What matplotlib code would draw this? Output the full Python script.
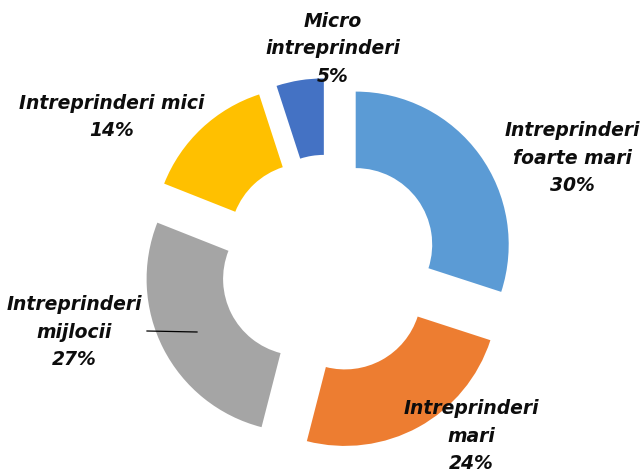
import matplotlib
matplotlib.use("Agg")
import matplotlib.pyplot as plt

categories = ["Intreprinderi\nfoarte mari", "Intreprinderi\nmari", "Intreprinderi\nmijlocii",
              "Intreprinderi mici", "Micro\nintreprinderi"]
values = [30, 24, 27, 14, 5]
colors = ["#5B9BD5", "#ED7D31", "#A5A5A5", "#FFC000", "#4472C4"]

fig = plt.figure(figsize=(6.4, 4.73), dpi=100)
ax = fig.add_axes([0, 0, 1, 1])

R = 153
ax.pie(values, colors=colors, startangle=90, counterclock=False,
       center=(329, 473 - 264), radius=R, explode=[33] * len(values),
       wedgeprops=dict(width=0.5 * R, edgecolor="none"), frame=True)
ax.set_xlim(0, 640)
ax.set_ylim(0, 473)
ax.set_aspect("equal")
ax.axis("off")

label_pos = [(572, 473 - 158), (471, 473 - 436), (74, 473 - 332), (112, 473 - 117), (333, 473 - 49)]
for cat, v, (x, y) in zip(categories, values, label_pos):
    txt = f"{cat}\n{v}%"
    ax.text(x, y, txt, ha="center", va="center", fontsize=13.5, fontweight="bold",
            fontstyle="italic", family="DejaVu Sans", linespacing=1.55, color="#0d0d0d")

ax.plot([147, 197], [473 - 331, 473 - 332], color="black", lw=0.9)

fig.savefig("out.png", dpi=100)
